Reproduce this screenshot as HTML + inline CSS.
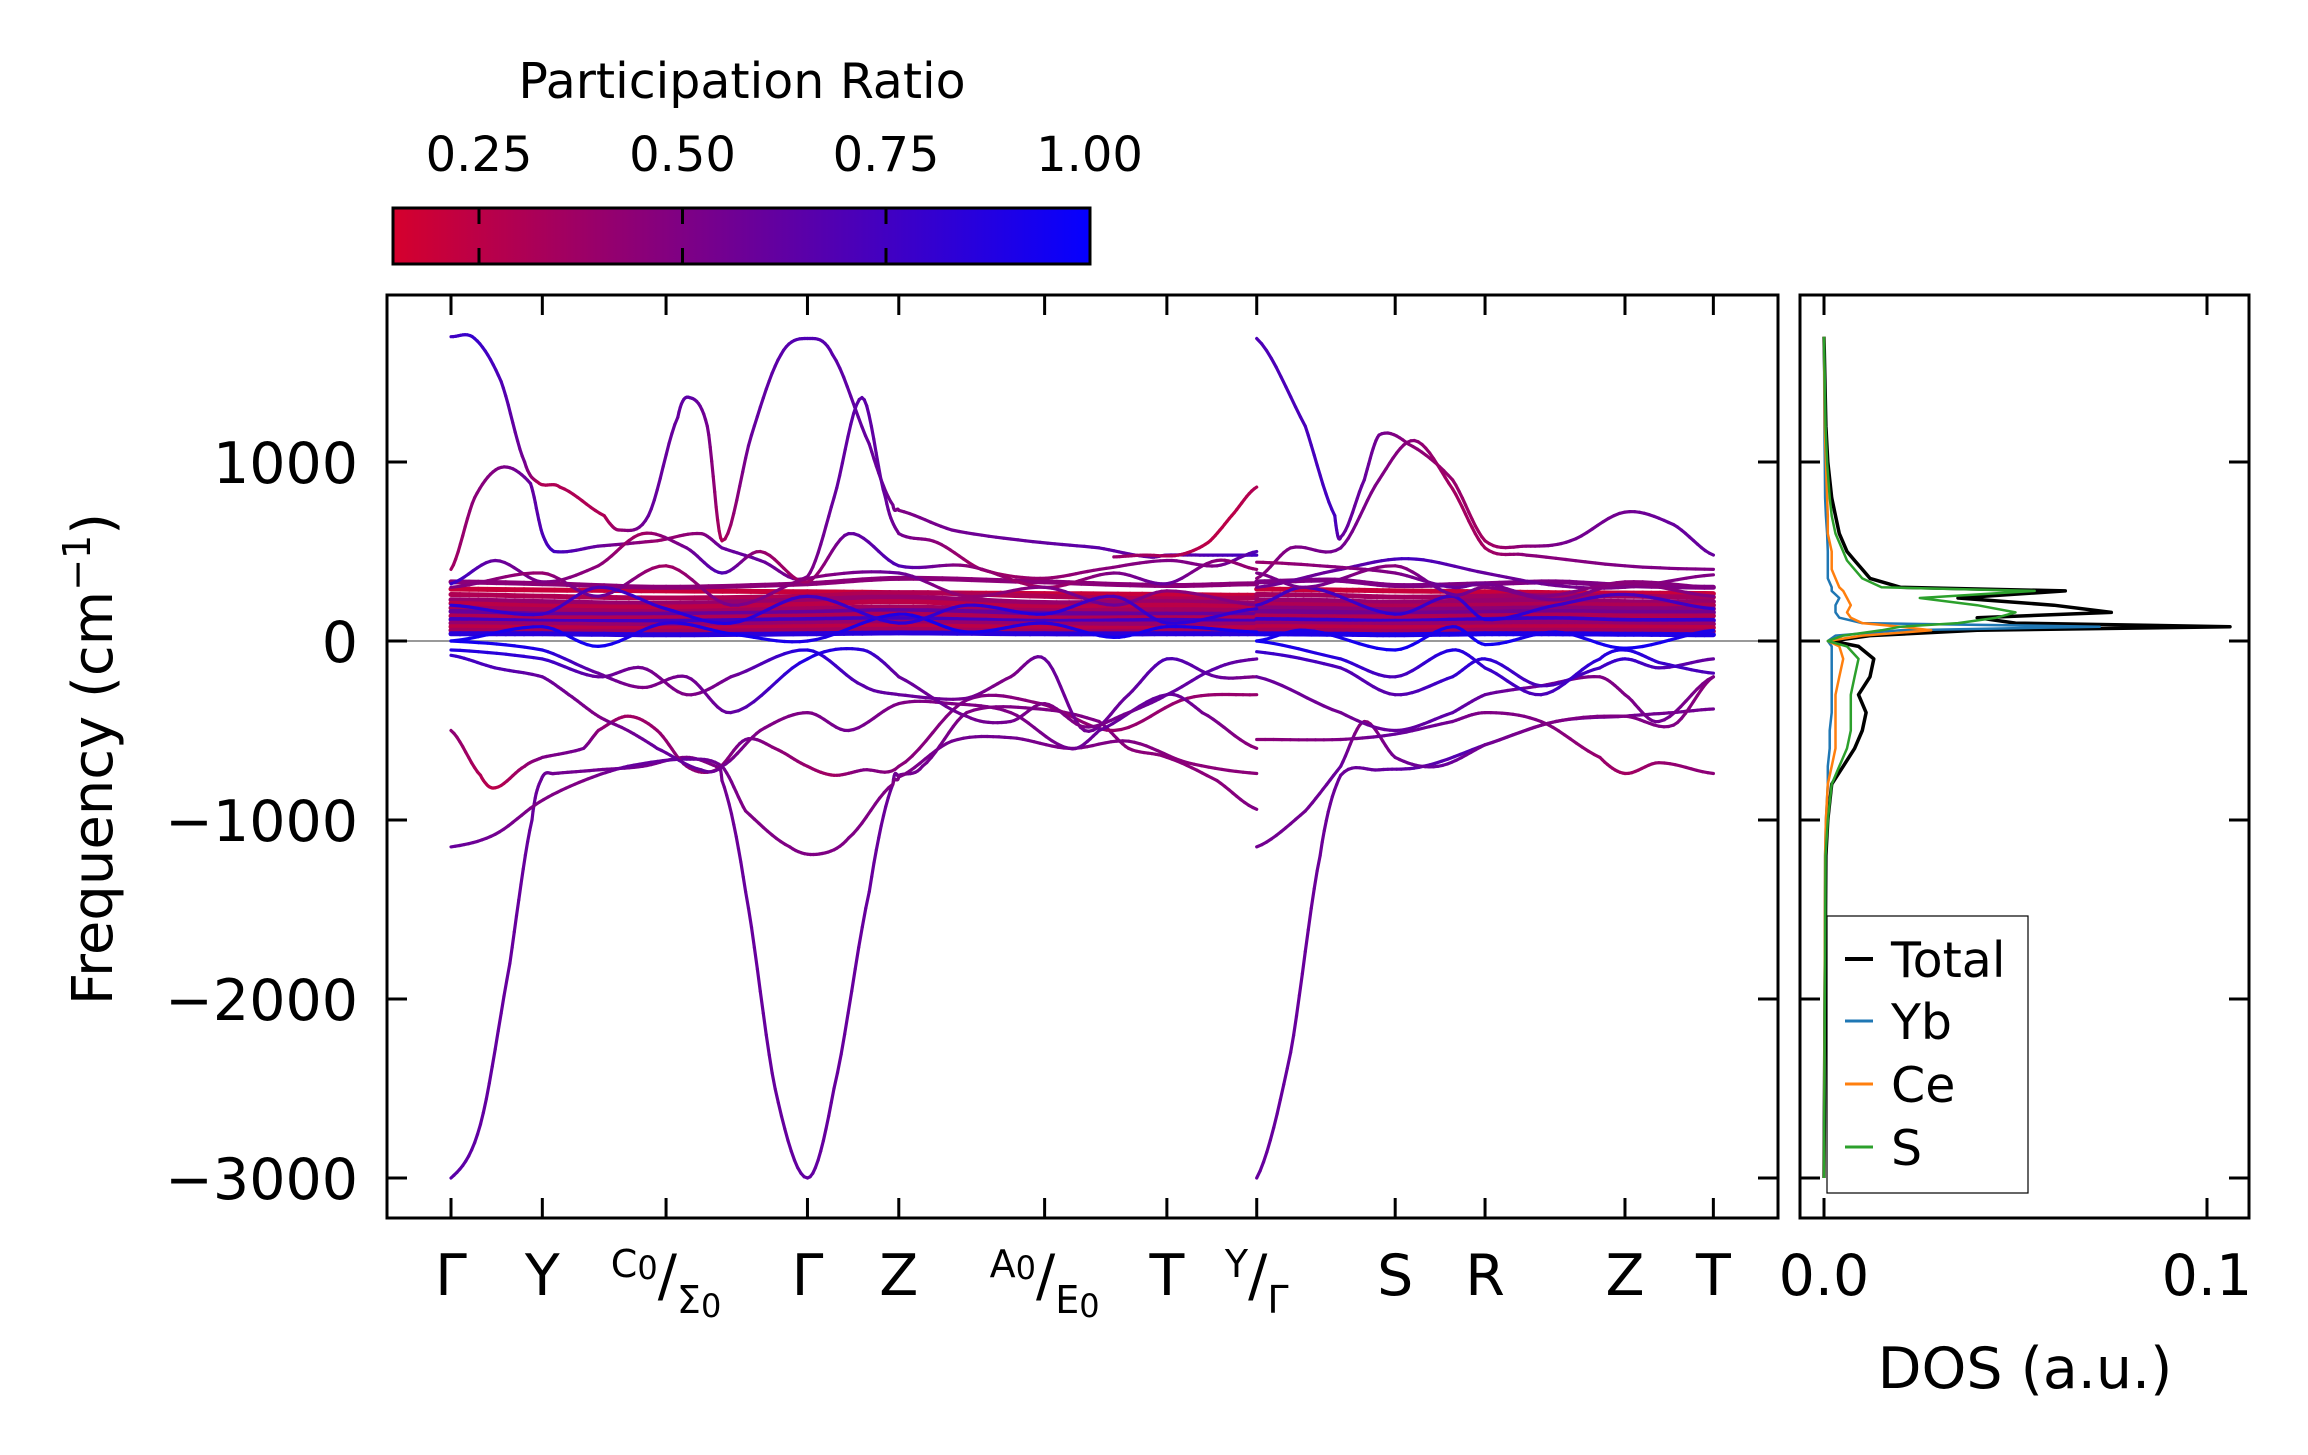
<!DOCTYPE html>
<html><head><meta charset="utf-8"><style>
html,body{margin:0;padding:0;background:#fff;}
svg{display:block;font-family:"DejaVu Sans","Liberation Sans",sans-serif;}
</style></head><body>
<svg id="fig" width="2308" height="1455" viewBox="0 0 2308 1455">
<defs>
<linearGradient id="cmap" x1="0" x2="1" y1="0" y2="0">
<stop offset="0" stop-color="rgb(213,0,45)"/><stop offset="1" stop-color="rgb(5,0,255)"/>
</linearGradient>
<clipPath id="mainclip"><rect x="387" y="295" width="1391" height="923"/></clipPath>
<clipPath id="dosclip"><rect x="1800" y="295" width="449" height="923"/></clipPath>
</defs>
<rect x="0" y="0" width="2308" height="1455" fill="#fff"/>
<text x="742" y="98" font-size="49" text-anchor="middle">Participation Ratio</text>
<rect x="393" y="208" width="697" height="56" fill="url(#cmap)" stroke="#000" stroke-width="3"/>
<g id="cbticks"></g>
<g id="main">
<g clip-path="url(#mainclip)" id="bands"></g>
</g>
<g id="dos">
<g clip-path="url(#dosclip)" id="doscurves"></g>
</g>
<rect x="387" y="295" width="1391" height="923" fill="none" stroke="#000" stroke-width="3"/>
<rect x="1800" y="295" width="449" height="923" fill="none" stroke="#000" stroke-width="3"/>
<g id="axes-deco"></g>
<text transform="translate(112,759) rotate(-90)" font-size="56" text-anchor="middle">Frequency (cm<tspan dy="-22" font-size="38">−1</tspan><tspan dy="22">)</tspan></text>
<text x="2025" y="1388" font-size="57" text-anchor="middle">DOS (a.u.)</text>
<g>
<rect x="1827" y="916" width="201" height="277" fill="#fff" stroke="#000" stroke-width="1.2"/>
<line x1="1845" x2="1873" y1="959" y2="959" stroke="#000" stroke-width="4"/>
<text x="1891" y="977" font-size="49">Total</text>
<line x1="1845" x2="1873" y1="1021" y2="1021" stroke="#1f77b4" stroke-width="3"/>
<text x="1891" y="1039" font-size="49">Yb</text>
<line x1="1845" x2="1873" y1="1084" y2="1084" stroke="#ff7f0e" stroke-width="3"/>
<text x="1891" y="1102" font-size="49">Ce</text>
<line x1="1845" x2="1873" y1="1147" y2="1147" stroke="#2ca02c" stroke-width="3"/>
<text x="1891" y="1165" font-size="49">S</text>
</g>
</svg>
<script>
// ---- data ----
const yTicks = [1000, 0, -1000, -2000, -3000];
const yTickLabels = ["1000", "0", "\u22121000", "\u22122000", "\u22123000"];
const kTicks = [0, 0.62, 1.46, 2.42, 3.04, 4.03, 4.86, 5.47, 6.41, 7.02, 7.97, 8.57];
const kLabels = ["\u0393", "Y", "C0|\u03A30", "\u0393", "Z", "A0|E0", "T", "Y|\u0393", "S", "R", "Z", "T"];
const cbTicks = [0.25, 0.50, 0.75, 1.00];
const cbTickLabels = ["0.25", "0.50", "0.75", "1.00"];
const dosTicks = [0.0, 0.1];
const dosTickLabels = ["0.0", "0.1"];

const bandK = [
 [0,0.16,0.34,0.5,0.6,0.74,1.04,1.14,1.34,1.54,1.62,1.74,1.84,2.04,2.24,2.42,2.59,2.84,3.0,3.04,3.4,3.9,4.4,4.74,4.86,5.14,5.47],
 [0,0.16,0.34,0.54,0.62,0.7,1.0,1.4,1.7,1.84,2.1,2.42,2.6,2.79,2.95,3.04,3.3,3.6,4.0,4.4,4.86,5.2,5.47],
 [4.5,4.7,4.94,5.14,5.3,5.47],
 [0,0.3,0.62,1.0,1.3,1.6,1.84,2.1,2.42,2.7,3.04,3.5,4.03,4.5,4.86,5.2,5.47],
 [0,0.2,0.4,0.55,0.62,0.7,1.0,1.3,1.6,1.8,1.84,2.0,2.2,2.42,2.6,2.84,3.0,3.04,3.2,3.5,4.0,4.4,4.6,4.86,5.2,5.47],
 [0,0.3,0.6,0.9,1.2,1.6,1.84,2.0,2.3,2.5,2.7,3.0,3.04,3.4,3.8,4.2,4.6,5.0,5.47],
 [0,0.2,0.3,0.5,0.62,0.9,1.0,1.2,1.4,1.6,1.8,2.0,2.2,2.42,2.6,2.8,3.04,3.5,4.0,4.5,5.0,5.47],
 [0,0.3,0.62,0.8,1.0,1.2,1.4,1.7,1.84,2.1,2.42,2.7,3.04,3.4,3.8,4.2,4.4,4.86,5.1,5.47],
 [0,0.62,1.0,1.3,1.6,1.9,2.42,2.8,3.04,3.5,3.8,4.03,4.3,4.6,4.86,5.2,5.47],
 [0,0.62,1.0,1.3,1.6,1.9,2.42,2.8,3.04,3.5,3.8,4.03,4.3,4.6,4.86,5.2,5.47],
 [5.47,5.8,6.0,6.04,6.2,6.3,6.5,6.8,7.02,7.3,7.6,7.97,8.3,8.57],
 [5.47,5.7,6.04,6.3,6.54,6.8,7.02,7.3,7.97,8.57],
 [5.47,6.04,6.5,7.02,7.5,7.97,8.57],
 [5.47,5.7,5.9,6.04,6.3,6.6,7.02,7.5,7.97,8.3,8.57],
 [5.47,5.8,6.04,6.2,6.41,6.7,7.02,7.5,7.97,8.3,8.57],
 [5.47,6.04,6.41,6.8,7.02,7.4,7.8,7.97,8.2,8.57],
 [5.47,6.04,6.41,6.8,7.02,7.4,7.8,7.97,8.2,8.57],
 [5.47,6.04,6.41,6.8,7.02,7.4,7.8,7.97,8.2,8.57],
 [5.47,6.04,6.41,6.8,7.02,7.4,7.8,7.97,8.2,8.57],
 [5.47,5.9,6.41,6.8,7.02,7.4,7.97,8.57],
 [0,0.62,1.0,1.46,1.9,2.42,3.04,3.5,4.03,4.5,4.86,5.47],
 [0,0.62,1.0,1.46,1.9,2.42,3.04,3.5,4.03,4.5,4.86,5.47],
 [0,0.62,1.0,1.46,1.9,2.42,3.04,3.5,4.03,4.5,4.86,5.47],
 [5.47,5.8,6.41,6.8,7.02,7.5,7.97,8.57],
 [5.47,5.8,6.41,6.8,7.02,7.5,7.97,8.57],
 [5.47,5.8,6.41,6.8,7.02,7.5,7.97,8.57]
];
const bandF = [
 [1700,1690,1450,1000,880,860,700,620,700,1250,1360,1200,560,1150,1600,1690,1600,1100,760,730,620,560,520,470,480,480,480],
 [400,800,970,880,600,500,530,560,600,520,450,360,800,1360,800,600,550,400,350,400,450,420,500],
 [470,480,480,550,700,860],
 [320,450,330,420,600,520,380,500,330,600,420,420,300,380,320,450,400],
 [-3000,-2700,-1800,-1000,-760,-740,-720,-700,-650,-700,-780,-1400,-2500,-3000,-2500,-1400,-800,-750,-700,-400,-380,-450,-600,-650,-780,-940],
 [-1150,-1080,-900,-780,-700,-660,-700,-950,-1150,-1190,-1100,-800,-760,-560,-540,-600,-560,-680,-740],
 [-500,-750,-820,-700,-650,-600,-500,-420,-500,-700,-720,-550,-600,-700,-750,-720,-700,-330,-350,-500,-320,-300],
 [-80,-150,-200,-300,-420,-500,-600,-720,-700,-500,-400,-500,-350,-350,-400,-600,-500,-300,-400,-600],
 [-50,-100,-200,-150,-300,-200,-50,-250,-300,-320,-200,-100,-500,-300,-100,-200,-200],
 [0,-50,-180,-260,-200,-400,-100,-50,-200,-420,-450,-350,-480,-400,-300,-150,-100],
 [1690,1200,700,580,900,1150,1100,900,560,530,560,720,650,480],
 [350,520,520,900,1120,850,520,480,420,400],
 [300,400,460,380,310,300,370],
 [-3000,-2300,-1200,-750,-720,-700,-580,-450,-420,-400,-380],
 [-1150,-950,-700,-450,-650,-700,-580,-450,-420,-470,-200],
 [-550,-550,-520,-450,-400,-450,-650,-740,-680,-740],
 [-200,-400,-500,-400,-300,-250,-200,-300,-450,-200],
 [-60,-150,-300,-200,-100,-250,-150,-100,-150,-100],
 [0,-100,-200,-50,-150,-300,-100,-50,-120,-180],
 [440,420,380,300,320,250,330,300],
 [300,380,250,420,200,350,380,250,300,200,280,200],
 [0,80,-30,100,40,0,150,50,100,20,80,50],
 [200,150,300,180,100,250,100,200,150,250,100,180],
 [0,60,-50,80,-20,50,-40,60],
 [200,300,150,250,120,200,260,180],
 [380,300,420,260,300,230,320,250]
];
const bandP = [
 [0.75,0.8,0.7,0.55,0.3,0.3,0.3,0.4,0.6,0.6,0.65,0.55,0.3,0.6,0.65,0.7,0.65,0.6,0.55,0.5,0.55,0.6,0.65,0.6,0.6,0.7,0.75],
 [0.35,0.45,0.5,0.6,0.7,0.75,0.6,0.4,0.45,0.6,0.6,0.5,0.6,0.65,0.6,0.55,0.45,0.35,0.4,0.45,0.5,0.5,0.7],
 [0.4,0.35,0.3,0.25,0.25,0.3],
 [0.8,0.6,0.5,0.45,0.35,0.55,0.7,0.4,0.35,0.6,0.7,0.45,0.35,0.5,0.6,0.45,0.4],
 [0.65,0.62,0.6,0.6,0.58,0.55,0.55,0.55,0.5,0.5,0.55,0.6,0.6,0.62,0.6,0.6,0.58,0.55,0.55,0.5,0.5,0.5,0.45,0.45,0.45,0.5],
 [0.6,0.55,0.5,0.5,0.6,0.6,0.55,0.5,0.5,0.5,0.5,0.5,0.5,0.55,0.55,0.5,0.5,0.45,0.45],
 [0.45,0.3,0.25,0.4,0.5,0.55,0.45,0.35,0.4,0.45,0.4,0.55,0.45,0.4,0.35,0.5,0.45,0.5,0.45,0.4,0.4,0.4],
 [0.8,0.7,0.6,0.55,0.5,0.55,0.6,0.6,0.55,0.5,0.5,0.55,0.5,0.5,0.5,0.55,0.6,0.6,0.55,0.45],
 [0.9,0.8,0.6,0.55,0.5,0.55,0.9,0.65,0.6,0.55,0.5,0.6,0.55,0.6,0.7,0.6,0.5],
 [0.95,0.9,0.6,0.5,0.55,0.6,0.9,0.85,0.6,0.55,0.55,0.5,0.5,0.55,0.6,0.65,0.6],
 [0.7,0.72,0.75,0.6,0.6,0.55,0.45,0.4,0.35,0.45,0.55,0.55,0.6,0.6],
 [0.45,0.5,0.55,0.5,0.45,0.35,0.35,0.45,0.5,0.5],
 [0.55,0.6,0.75,0.6,0.55,0.5,0.5],
 [0.6,0.6,0.58,0.58,0.6,0.65,0.7,0.6,0.55,0.55,0.55],
 [0.55,0.55,0.6,0.45,0.55,0.6,0.55,0.5,0.5,0.5,0.45],
 [0.45,0.5,0.6,0.55,0.5,0.5,0.4,0.35,0.4,0.45],
 [0.6,0.55,0.6,0.65,0.6,0.55,0.5,0.5,0.55,0.5],
 [0.8,0.7,0.65,0.8,0.85,0.7,0.75,0.8,0.7,0.6],
 [0.95,0.85,0.7,0.9,0.8,0.7,0.85,0.9,0.8,0.7],
 [0.4,0.45,0.5,0.6,0.55,0.5,0.45,0.5],
 [0.5,0.4,0.6,0.35,0.55,0.45,0.6,0.4,0.5,0.6,0.45,0.5],
 [0.95,0.9,0.95,0.85,0.95,0.9,0.9,0.95,0.85,0.95,0.9,0.95],
 [0.85,0.8,0.7,0.85,0.9,0.75,0.85,0.8,0.9,0.7,0.85,0.8],
 [0.95,0.9,0.95,0.9,0.95,0.9,0.95,0.9],
 [0.8,0.7,0.85,0.75,0.9,0.8,0.7,0.8],
 [0.5,0.55,0.45,0.6,0.5,0.55,0.45,0.5]
];

const flatKLeft = [0, 0.62, 1.46, 2.42, 3.04, 4.03, 4.86, 5.47];
const flatKRight = [5.47, 6.0, 6.41, 7.02, 7.5, 7.97, 8.57];
const flatFLeft = [
 [290,285,280,275,270,265,260,255],[260,250,240,250,270,250,235,240],[230,220,210,230,245,215,220,210],
 [210,195,190,205,220,190,200,190],[185,175,165,180,190,170,175,170],[165,150,150,160,170,155,150,150],
 [140,130,130,140,150,130,130,130],[120,110,110,120,125,110,115,110],[100,95,90,100,105,95,95,95],
 [80,75,70,80,85,75,70,75],[60,55,55,60,65,55,55,55],[40,40,35,40,45,40,40,40],[330,320,300,320,350,330,310,320]
];
const flatPLeft = [0.2,0.3,0.4,0.25,0.35,0.6,0.3,0.75,0.4,0.25,0.35,0.85,0.45];
const flatFRight = [
 [290,285,280,275,270,268,265],[260,255,245,250,255,250,245],[230,225,215,225,230,220,220],
 [205,200,195,200,205,200,200],[185,180,175,180,185,180,180],[165,160,155,160,165,160,160],
 [140,135,135,140,145,140,140],[120,115,110,120,125,115,115],[100,95,95,100,105,95,95],
 [80,78,75,78,80,78,75],[60,58,55,60,60,58,55],[40,38,35,40,40,38,35],[330,340,310,320,330,310,300]
];
const flatPRight = [0.2,0.35,0.4,0.3,0.45,0.55,0.3,0.8,0.4,0.25,0.35,0.9,0.5];

const dosFreq = [-3000,-1200,-1000,-800,-700,-600,-500,-400,-300,-200,-100,-30,0,30,60,80,100,130,160,200,240,280,300,350,400,450,500,600,700,800,1000,1200,1700];
const dosTotal = [0,0.0005,0.001,0.002,0.005,0.008,0.01,0.011,0.009,0.012,0.013,0.009,0.002,0.012,0.04,0.106,0.05,0.04,0.075,0.06,0.035,0.063,0.02,0.012,0.01,0.008,0.006,0.004,0.003,0.002,0.001,0.0005,0];
const dosYb = [0,0.0003,0.0005,0.001,0.001,0.0015,0.0015,0.002,0.002,0.002,0.002,0.002,0.001,0.003,0.02,0.072,0.01,0.004,0.003,0.003,0.004,0.002,0.002,0.001,0.001,0.001,0.001,0.0008,0.0005,0.0003,0.0002,0.0001,0];
const dosCe = [0,0.0003,0.0005,0.001,0.002,0.003,0.003,0.003,0.003,0.004,0.005,0.004,0.001,0.01,0.028,0.02,0.01,0.007,0.006,0.007,0.006,0.005,0.004,0.003,0.002,0.002,0.002,0.001,0.001,0.0008,0.0005,0.0002,0];
const dosS = [0,0.0004,0.001,0.002,0.004,0.006,0.007,0.007,0.007,0.008,0.009,0.006,0.001,0.005,0.015,0.02,0.035,0.045,0.05,0.04,0.025,0.055,0.015,0.01,0.008,0.006,0.005,0.003,0.002,0.0015,0.0008,0.0004,0];

// ---- scales ----
const NS = "http://www.w3.org/2000/svg";
const yOf = f => 641 - f * 0.179;
const xOf = k => 451 + k * 147.3;
const dosX = d => 1824 + d * 3830;
const cbX = v => 479 + (v - 0.25) * 814;
function pColor(p) {
  let t = (p - 0.145) / (1 - 0.145); t = Math.max(0, Math.min(1, t));
  const r = Math.round(213 + (5 - 213) * t), b = Math.round(45 + (255 - 45) * t);
  return "rgb(" + r + ",0," + b + ")";
}
function mk(tag, attrs, parent) {
  const e = document.createElementNS(NS, tag);
  for (const a in attrs) e.setAttribute(a, attrs[a]);
  parent.appendChild(e); return e;
}
function spline(ks, fs, ps, steps) {
  const out = [];
  for (let i = 0; i < ks.length - 1; i++) {
    const f0 = fs[Math.max(0, i - 1)], f1 = fs[i], f2 = fs[i + 1], f3 = fs[Math.min(fs.length - 1, i + 2)];
    const k1 = ks[i], k2 = ks[i + 1];
    for (let s = 0; s < steps; s++) {
      const t = s / steps, t2 = t * t, t3 = t2 * t;
      const cr = (a, b, c, d) => 0.5 * ((2 * b) + (-a + c) * t + (2 * a - 5 * b + 4 * c - d) * t2 + (-a + 3 * b - 3 * c + d) * t3);
      out.push([k1 + (k2 - k1) * t, cr(f0, f1, f2, f3), ps[i] + (ps[i + 1] - ps[i]) * t]);
    }
  }
  const n = ks.length - 1; out.push([ks[n], fs[n], ps[n]]);
  return out;
}
const bandsG = document.getElementById("bands");
function drawBand(ks, fs, ps, idx, w) {
  const pts = spline(ks, fs, ps, 10);
  const g = mk("g", {}, bandsG);
  
  
  for (let i = 0; i < pts.length - 1; i++) {
    mk("line", {x1: xOf(pts[i][0]).toFixed(1), y1: yOf(pts[i][1]).toFixed(1), x2: xOf(pts[i + 1][0]).toFixed(1), y2: yOf(pts[i + 1][1]).toFixed(1),
      stroke: pColor((pts[i][2] + pts[i + 1][2]) / 2), "stroke-width": w, "stroke-linecap": "round"}, g);
  }
}
const zl = mk("line", {x1: 387, x2: 1778, y1: yOf(0), y2: yOf(0), stroke: "#999", "stroke-width": 2}, bandsG);


let bi = 0;
flatFLeft.forEach((fs, i) => drawBand(flatKLeft, fs, fs.map(() => flatPLeft[i]), bi++, 5));
flatFRight.forEach((fs, i) => drawBand(flatKRight, fs, fs.map(() => flatPRight[i]), bi++, 5));
bandK.forEach((ks, i) => drawBand(ks, bandF[i], bandP[i], bi++, 3.2));

const dosG = document.getElementById("doscurves");
function drawDos(vals, color, w, name) {
  const pts = dosFreq.map((f, i) => dosX(vals[i]).toFixed(1) + "," + yOf(f).toFixed(1)).join(" ");
  const pl = mk("polyline", {points: pts, fill: "none", stroke: color, "stroke-width": w, "stroke-linejoin": "round"}, dosG);
  
  
}
drawDos(dosTotal, "#000", 3.5, "dos-total");
drawDos(dosYb, "#1f77b4", 2.5, "dos-yb");
drawDos(dosCe, "#ff7f0e", 2.5, "dos-ce");
drawDos(dosS, "#2ca02c", 2.5, "dos-s");

const deco = document.getElementById("axes-deco");
yTicks.forEach((v, i) => {
  const y = yOf(v);
  mk("line", {x1: 387, x2: 407, y1: y, y2: y, stroke: "#000", "stroke-width": 3}, deco);
  mk("line", {x1: 1758, x2: 1778, y1: y, y2: y, stroke: "#000", "stroke-width": 3}, deco);
  mk("line", {x1: 1800, x2: 1820, y1: y, y2: y, stroke: "#000", "stroke-width": 3}, deco);
  mk("line", {x1: 2229, x2: 2249, y1: y, y2: y, stroke: "#000", "stroke-width": 3}, deco);
  const t = mk("text", {x: 358, y: y + 21, "font-size": 57, "text-anchor": "end"}, deco);
  t.textContent = yTickLabels[i];
  
  
});
kTicks.forEach((k, i) => {
  const x = xOf(k);
  mk("line", {x1: x, x2: x, y1: 295, y2: 315, stroke: "#000", "stroke-width": 3}, deco);
  mk("line", {x1: x, x2: x, y1: 1198, y2: 1218, stroke: "#000", "stroke-width": 3}, deco);
  const lab = kLabels[i];
  const t = mk("text", {x: x, y: 1295, "font-size": 57, "text-anchor": "middle"}, deco);
  
  
  if (lab.indexOf("|") >= 0) {
    const parts = lab.split("|");
    const sup = parts[0], sub = parts[1];
    const a = mk("tspan", {"font-size": 38, dy: -18}, t); a.textContent = sup[0];
    if (sup.length > 1) { const z = mk("tspan", {"font-size": 32, dy: 2}, t); z.textContent = "0"; }
    const sl = mk("tspan", {dy: sup.length > 1 ? 16 : 18, "font-size": 57}, t); sl.textContent = "/";
    const b = mk("tspan", {"font-size": 38, dy: 18}, t); b.textContent = sub[0];
    if (sub.length > 1) { const z2 = mk("tspan", {"font-size": 32, dy: 4}, t); z2.textContent = "0"; }
  } else t.textContent = lab;
});
dosTicks.forEach((d, i) => {
  const x = dosX(d);
  mk("line", {x1: x, x2: x, y1: 295, y2: 315, stroke: "#000", "stroke-width": 3}, deco);
  mk("line", {x1: x, x2: x, y1: 1198, y2: 1218, stroke: "#000", "stroke-width": 3}, deco);
  const t = mk("text", {x: x, y: 1295, "font-size": 57, "text-anchor": "middle"}, deco);
  t.textContent = dosTickLabels[i];
  
  
});
const cbG = document.getElementById("cbticks");
cbTicks.forEach((v, i) => {
  const x = cbX(v);
  if (v < 1) {
    mk("line", {x1: x, x2: x, y1: 208, y2: 224, stroke: "#000", "stroke-width": 3}, cbG);
    mk("line", {x1: x, x2: x, y1: 248, y2: 264, stroke: "#000", "stroke-width": 3}, cbG);
  }
  const t = mk("text", {x: x, y: 171, "font-size": 48, "text-anchor": "middle"}, cbG);
  t.textContent = cbTickLabels[i];
  
  
});
</script>
</body></html>
